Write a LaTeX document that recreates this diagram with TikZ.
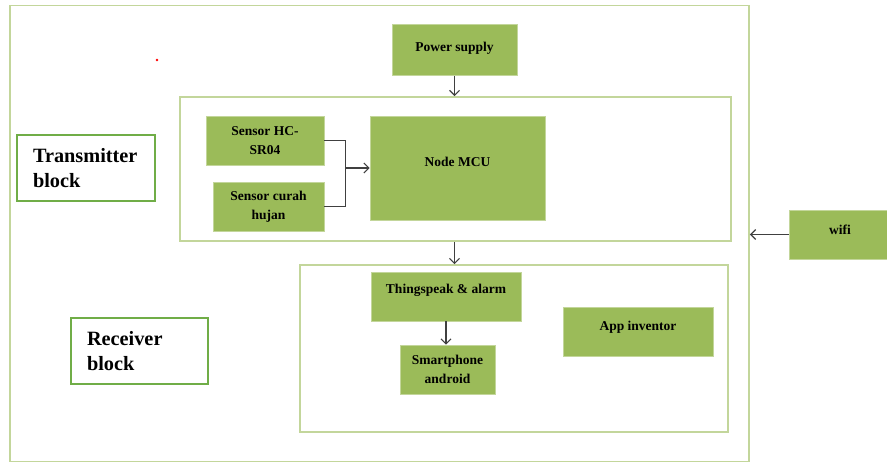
\documentclass[tikz,border=0pt]{standalone}
\usepackage{fontspec}
\setmainfont{Liberation Serif}
\usepackage{tikz}
\usetikzlibrary{arrows, arrows.meta, positioning, calc}
\definecolor{boxfill}{HTML}{9BBB59}
\definecolor{framegreen}{HTML}{C3D69B}
\definecolor{taggreen}{HTML}{70AD47}
\definecolor{wire}{HTML}{404040}
\tikzset{%
	blk/.style={draw=framegreen, line width=0.6pt, fill=boxfill, rectangle, inner sep=0mm,%
		align=center, font=\bfseries\fontsize{13.5}{19}\selectfont},
	frame/.style={draw=framegreen, line width=1.6pt, rectangle, inner sep=0mm},
	tag/.style={draw=taggreen, line width=2pt, rectangle, inner sep=0mm, align=left,%
		font=\bfseries\fontsize{20.3}{25}\selectfont},
	wireline/.style={draw=wire, line width=1.2pt},
	sel/.style={-{Straight Barb[length=5pt, width=10pt, line width=1.2pt]}, draw=wire, line width=1.2pt}
}
\begin{document}
\begin{tikzpicture}[x=1pt, y=-1pt]
		\useasboundingbox (0,0) rectangle (887,463);
		\node[frame, minimum width=739, minimum height=456] (outer) at (379.5,233.5) {};
		\fill[red] (157,60) circle (1.3);
		\node[frame, minimum width=551, minimum height=144] (tx) at (455.5,169) {};
		\node[frame, minimum width=428, minimum height=167] (rx) at (514,348.5) {};
		\node[blk, minimum width=125, minimum height=51, text depth=7pt] (power) at (454.5,50) {Power supply};
		\node[blk, minimum width=118, minimum height=49] (hc) at (265,140.5) {Sensor HC-\\SR04};
		\node[blk, minimum width=111, minimum height=49] (rain) at (268.5,206.5) {Sensor curah\\hujan};
		\node[blk, minimum width=175, minimum height=104, text depth=12pt] (mcu) at (457.5,168) {Node MCU};
		\node[blk, minimum width=150, minimum height=49, text depth=15pt] (thing) at (446,296.5) {Thingspeak \& alarm};
		\node[blk, minimum width=95, minimum height=49] (phone) at (447.5,369.5) {Smartphone\\android};
		\node[blk, minimum width=150, minimum height=49, text depth=12pt] (app) at (638,331.5) {App inventor};
		\node[blk, minimum width=102, minimum height=49, text depth=9pt] (wifi) at (840,234.5) {wifi};
		\node[tag, minimum width=138, minimum height=66, text width=106pt] (txtag) at (86,168) {Transmitter\\block};
		\node[tag, minimum width=137, minimum height=66, text width=105pt] (rxtag) at (139.5,351) {Receiver\\block};
		\coordinate (jn) at ($(hc.east)+(21,0)$);
		\coordinate (jn) at (jn |- mcu.west);
		\draw [wireline] (hc.east) -| (jn);
		\draw [wireline] (rain.east) -| (jn);
		\draw [sel] (jn) -- (mcu.west);
		\draw [sel] (power.south) -- (power.south |- tx.north);
		\draw [sel] (power.south |- tx.south) -- (power.south |- rx.north);
		\draw [sel] (thing.south) -- (thing.south |- phone.north);
		\draw [sel] (wifi.west) -- (wifi.west -| outer.east);
\end{tikzpicture}
\end{document}
